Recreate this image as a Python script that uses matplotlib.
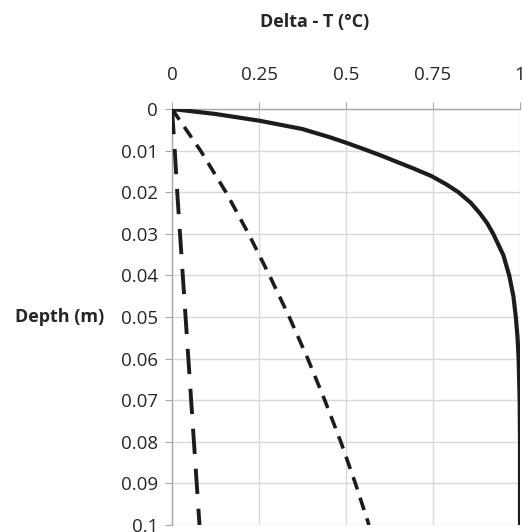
import matplotlib.pyplot as plt

plt.rcParams['font.family'] = ['Open Sans', 'DejaVu Sans']

# Curvas (profundidad en m, delta T en °C)
depth_solid = [0, 0.0012, 0.0028, 0.0048, 0.0068, 0.0081, 0.0096, 0.0111, 0.0127, 0.0143,
               0.0161, 0.0181, 0.02, 0.0225, 0.0251, 0.0275, 0.03, 0.0351, 0.04, 0.045,
               0.05, 0.055, 0.06, 0.07, 0.08, 0.09, 0.1]
dt_solid = [0, 0.125, 0.25, 0.374, 0.454, 0.5, 0.55, 0.598, 0.646, 0.694,
            0.745, 0.788, 0.823, 0.858, 0.885, 0.906, 0.923, 0.952, 0.969, 0.981,
            0.988, 0.993, 0.996, 0.999, 1.0, 1.0, 1.0]

depth_short = [0, 0.01, 0.02, 0.03, 0.04, 0.05, 0.06, 0.07, 0.08, 0.09, 0.1]
dt_short = [0, 0.082, 0.155, 0.22, 0.28, 0.337, 0.39, 0.439, 0.485, 0.527, 0.566]

depth_long = [0, 0.01, 0.02, 0.03, 0.04, 0.05, 0.06, 0.07, 0.08, 0.09, 0.1]
dt_long = [0, 0.008, 0.015, 0.023, 0.031, 0.039, 0.047, 0.055, 0.063, 0.071, 0.079]

x_ticks = [0, 0.25, 0.5, 0.75, 1]
x_labels = ['0', '0.25', '0.5', '0.75', '1']
y_ticks = [0, 0.01, 0.02, 0.03, 0.04, 0.05, 0.06, 0.07, 0.08, 0.09, 0.1]
y_labels = ['0', '0.01', '0.02', '0.03', '0.04', '0.05', '0.06', '0.07', '0.08', '0.09', '0.1']

fig = plt.figure(figsize=(5.23, 5.32), dpi=100)
ax = fig.add_axes([172 / 523, 1 - 525 / 532, 348 / 523, 416 / 532])

ink = '#1e1b1c'
ax.plot(dt_solid, depth_solid, color=ink, lw=3.0, solid_joinstyle='round',
        solid_capstyle='butt', zorder=3)
ax.plot(dt_short, depth_short, color=ink, lw=2.6, dashes=(3.6, 2.4), zorder=3)
ax.plot(dt_long, depth_long, color=ink, lw=2.8, dashes=(6.5, 3.8), zorder=3)

ax.set_xlim(0, 1)
ax.set_ylim(0.1, 0)
ax.xaxis.tick_top()
ax.set_xticks(x_ticks)
ax.set_xticklabels(x_labels)
ax.set_yticks(y_ticks)
ax.set_yticklabels(y_labels)

ax.grid(True, color='#d9d9d9', lw=1.0)
ax.set_axisbelow(True)
for side in ['right', 'bottom']:
    ax.spines[side].set_visible(False)
for side in ['left', 'top']:
    ax.spines[side].set_color('#a6a6a6')
    ax.spines[side].set_linewidth(1.0)

ax.tick_params(axis='x', which='both', top=True, bottom=False, direction='out',
               length=5, color='#a6a6a6', labelsize=13.5, labelcolor='#262626', pad=13)
ax.tick_params(axis='y', direction='out', length=5, color='#a6a6a6',
               labelsize=13.5, labelcolor='#262626', pad=5)

fig.text(315 / 523, 1 - 22 / 532, 'Delta - T (°C)', ha='center', va='center',
         fontsize=13, fontweight='bold', color='#262626')
fig.text(60 / 523, 1 - 317 / 532, 'Depth (m)', ha='center', va='center',
         fontsize=13, fontweight='bold', color='#262626')

fig.savefig('out.png', dpi=100)
